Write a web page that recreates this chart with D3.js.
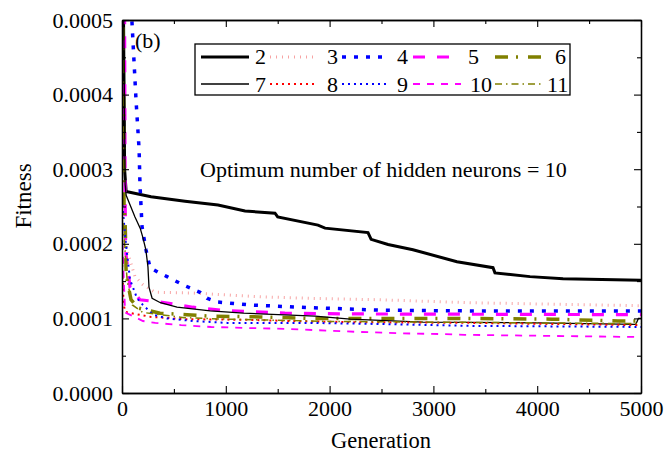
<!DOCTYPE html>
<html>
<head>
<meta charset="utf-8">
<script src="https://cdn.jsdelivr.net/npm/d3@7"></script>
<style>
  body { margin: 0; background: #fff; }
</style>
</head>
<body>
<svg id="chart" width="670" height="465"></svg>
<script>
// fitness vs generation, one array of [generation, fitness] per hidden-neuron count
const s2 = [[0, 0.0008], [25, 0.00030], [40, 0.000270], [280, 0.000263], [607, 0.000257], [925, 0.000252],
  [1185, 0.000244], [1474, 0.000241], [1500, 0.000236], [1888, 0.000225], [1956, 0.000221],
  [2370, 0.000215], [2400, 0.000206], [2563, 0.000199], [2803, 0.000192], [3227, 0.000176],
  [3574, 0.000168], [3593, 0.000161], [3931, 0.000156], [4249, 0.000153], [5000, 0.000151]]
const s3 = [[0, 0.00022], [40, 0.000195], [77, 0.000178], [125, 0.000156], [202, 0.000145], [318, 0.000135],
  [684, 0.000134], [1329, 0.000129], [1782, 0.000127], [2486, 0.000125], [3353, 0.000121], [5000, 0.000117]]
const s4 = [[0, 0.0009], [95, 0.0005], [135, 0.000393], [165, 0.000326], [173, 0.000280], [193, 0.000223],
  [231, 0.000192], [270, 0.000168], [347, 0.000162], [434, 0.000156], [588, 0.000145], [751, 0.000135],
  [819, 0.000127], [915, 0.000122], [1233, 0.000118], [1715, 0.000115], [2486, 0.000111],
  [3353, 0.000110], [5000, 0.000110]]
const s5 = [[0, 0.0008], [25, 0.0005], [30, 0.00027], [35, 0.00019], [77, 0.000142], [173, 0.000125],
  [366, 0.000122], [684, 0.000115], [944, 0.000111], [1570, 0.000107], [2196, 0.000106], [5000, 0.000105]]
const s6 = [[0, 0.0008], [10, 0.0005], [20, 0.00025], [30, 0.000232], [40, 0.000158], [87, 0.000125],
  [154, 0.000114], [366, 0.000107], [626, 0.000105], [848, 0.000103], [1329, 0.000102],
  [1782, 0.000100], [3189, 0.000100], [4143, 0.000099], [4778, 0.0000965], [5000, 0.0000965]]
const s7 = [[0, 0.0008], [30, 0.00028], [40, 0.000265], [125, 0.000236], [175, 0.000221], [200, 0.000209],
  [230, 0.000192], [250, 0.000169], [260, 0.000142], [290, 0.000127], [370, 0.000121], [530, 0.000115],
  [850, 0.000110], [1170, 0.000107], [1860, 0.000103], [2200, 0.000099], [2900, 0.000095],
  [4000, 0.000094], [4950, 0.000092], [4975, 0.000100], [5000, 0.000100]]
const s8 = [[0, 0.00018], [15, 0.00012], [30, 0.000109], [87, 0.000107], [280, 0.000102], [607, 0.000099],
  [1243, 0.000098], [1628, 0.0000965], [2196, 0.000095], [3353, 0.000094], [5000, 0.000091]]
const s9 = [[0, 0.00026], [30, 0.00021], [77, 0.000152], [145, 0.000127], [202, 0.000118], [299, 0.000105],
  [434, 0.000100], [684, 0.0000965], [1012, 0.000094], [1782, 0.000094], [2486, 0.0000925],
  [3353, 0.000090], [5000, 0.0000885]]
const s10 = [[0, 0.00022], [15, 0.00016], [30, 0.000108], [202, 0.0000965], [320, 0.000094], [570, 0.000091],
  [860, 0.0000885], [1240, 0.000087], [1570, 0.000086], [2260, 0.000082], [2690, 0.000080],
  [3080, 0.000079], [3300, 0.000078], [5000, 0.000075]]
const s11 = [[0, 0.00025], [20, 0.00021], [50, 0.00015], [100, 0.000118], [200, 0.000108], [600, 0.000101],
  [1000, 0.000099], [2000, 0.000096], [3000, 0.000095], [4000, 0.000094], [5000, 0.000093]]

const names = ['2', '3', '4', '5', '6', '7', '8', '9', '10', '11']
const seriesData = [s2, s3, s4, s5, s6, s7, s8, s9, s10, s11]
const xTicks = [0, 1000, 2000, 3000, 4000, 5000]
const yTicks = [0, 0.0001, 0.0002, 0.0003, 0.0004, 0.0005]

const styles = {
  '2': { color: '#000', w: 3, dash: null },
  '3': { color: '#f7a3a3', w: 3, dash: '1,5' },
  '4': { color: '#0000ff', w: 3.5, dash: '4,8' },
  '5': { color: '#ff00ff', w: 3.2, dash: '12,12' },
  '6': { color: '#808000', w: 3.5, dash: '13,8,2,10' },
  '7': { color: '#000', w: 1.3, dash: null },
  '8': { color: '#ff0000', w: 2, dash: '2,4' },
  '9': { color: '#0000ff', w: 2, dash: '2,4' },
  '10': { color: '#ff00ff', w: 1.8, dash: '7,7' },
  '11': { color: '#808000', w: 1.5, dash: '7,4,1.5,4' }
}

var FONT = '"Liberation Serif", "Times New Roman", Tinos, serif'

var margin = { top: 20, left: 122 },
  width = 519,
  height = 373

var svg = d3.select('#chart')
var g = svg.append('g').attr('transform', 'translate(' + margin.left + ',' + margin.top + ')')

var x = d3.scaleLinear().domain([0, 5000]).range([0, width])
var y = d3.scaleLinear().domain([0, 0.0005]).range([height, 0])

svg.append('defs').append('clipPath').attr('id', 'clip')
  .append('rect').attr('width', width).attr('height', height)

var line = d3.line()
  .x(function(d) { return x(d[0]) })
  .y(function(d) { return y(d[1]) })

var plot = g.append('g').attr('clip-path', 'url(#clip)')
names.forEach(function(n, i) {
  var st = styles[n]
  plot.append('path')
    .datum(seriesData[i])
    .attr('d', line)
    .attr('fill', 'none')
    .attr('stroke', st.color)
    .attr('stroke-width', st.w)
    .attr('stroke-dasharray', st.dash)
})

// axes: ticks point inward on all four sides
function styleAxis(sel) {
  sel.attr('font-family', null)
  sel.selectAll('.domain').attr('stroke', '#000').attr('stroke-width', 1.3)
  sel.selectAll('.tick line').attr('stroke', '#000').attr('stroke-width', 1.1)
  sel.selectAll('text').attr('font-size', 22).style('font-family', FONT).attr('fill', '#000')
}
var minorX = d3.range(500, 5000, 1000)
var minorY = d3.range(0.00005, 0.0005, 0.0001)

g.append('g').attr('transform', 'translate(0,' + height + ')')
  .call(d3.axisBottom(x).tickValues(xTicks).tickSizeInner(-7).tickSizeOuter(0).tickPadding(7).tickFormat(d3.format('d')))
  .call(styleAxis)
g.append('g').attr('transform', 'translate(0,' + height + ')')
  .call(d3.axisBottom(x).tickValues(minorX).tickSizeInner(-4).tickSizeOuter(0).tickFormat(''))
  .call(styleAxis)
g.append('g')
  .call(d3.axisTop(x).tickValues(xTicks).tickSizeInner(-7).tickSizeOuter(0).tickFormat(''))
  .call(styleAxis)
g.append('g')
  .call(d3.axisTop(x).tickValues(minorX).tickSizeInner(-4).tickSizeOuter(0).tickFormat(''))
  .call(styleAxis)
g.append('g')
  .call(d3.axisLeft(y).tickValues(yTicks).tickSizeInner(-7).tickSizeOuter(0).tickPadding(9).tickFormat(d3.format('.4f')))
  .call(styleAxis)
g.append('g')
  .call(d3.axisLeft(y).tickValues(minorY).tickSizeInner(-4).tickSizeOuter(0).tickFormat(''))
  .call(styleAxis)
g.append('g').attr('transform', 'translate(' + width + ',0)')
  .call(d3.axisRight(y).tickValues(yTicks).tickSizeInner(-7).tickSizeOuter(0).tickFormat(''))
  .call(styleAxis)
g.append('g').attr('transform', 'translate(' + width + ',0)')
  .call(d3.axisRight(y).tickValues(minorY).tickSizeInner(-4).tickSizeOuter(0).tickFormat(''))
  .call(styleAxis)

// axis titles
svg.append('text')
  .attr('transform', 'translate(31,196) rotate(-90)')
  .attr('text-anchor', 'middle')
  .attr('font-size', 23)
  .style('font-family', FONT)
  .text('Fitness')
svg.append('text')
  .attr('x', 381).attr('y', 448)
  .attr('text-anchor', 'middle')
  .attr('font-size', 22.5)
  .style('font-family', FONT)
  .text('Generation')

// annotations
svg.append('text').attr('x', 135).attr('y', 48).attr('font-size', 22).style('font-family', FONT).text('(b)')
svg.append('text').attr('x', 200).attr('y', 177).attr('font-size', 22).style('font-family', FONT)
  .text('Optimum number of hidden neurons = 10')

// legend
var legend = svg.append('g')
legend.append('rect')
  .attr('x', 195).attr('y', 44).attr('width', 375).attr('height', 51)
  .attr('fill', '#fff').attr('stroke', '#000').attr('stroke-width', 1.3)
var colX = [201, 270, 342, 413, 495]
var labX = [[255, 327, 397, 468, 555], [255, 327, 397, 470, 547]]
var rowY = [57, 84]
var rowBase = [64, 92]
names.forEach(function(n, i) {
  var r = Math.floor(i / 5), c = i % 5, st = styles[n]
  legend.append('line')
    .attr('x1', colX[c]).attr('x2', colX[c] + 48)
    .attr('y1', rowY[r]).attr('y2', rowY[r])
    .attr('stroke', st.color)
    .attr('stroke-width', st.w)
    .attr('stroke-dasharray', st.dash)
  legend.append('text')
    .attr('x', labX[r][c]).attr('y', rowBase[r])
    .attr('font-size', 22)
    .style('font-family', FONT)
    .text(n)
})
</script>
</body>
</html>
